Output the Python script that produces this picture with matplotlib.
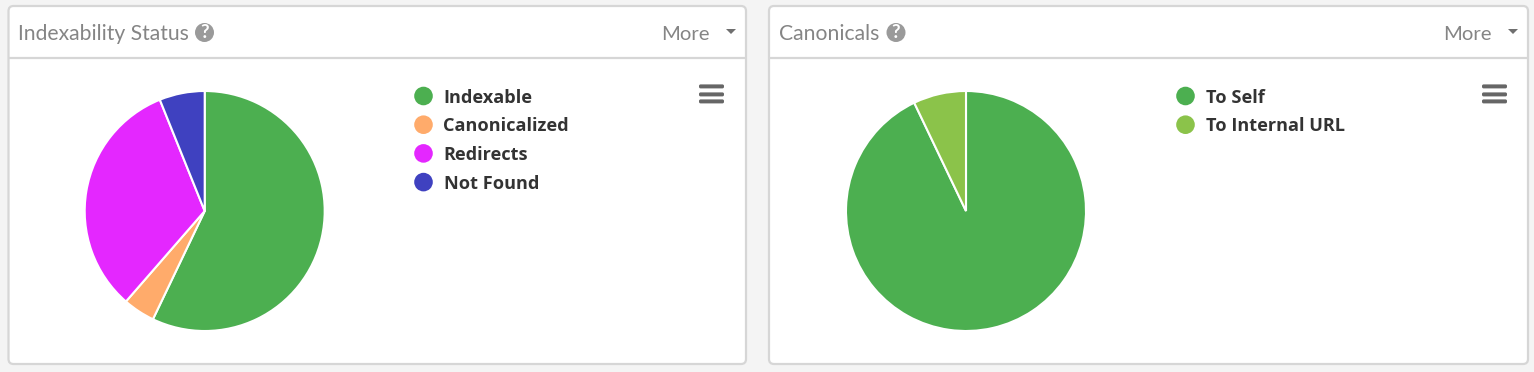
import matplotlib
matplotlib.use("Agg")
import matplotlib.pyplot as plt
from matplotlib.patches import FancyBboxPatch, Circle, Polygon

W, H = 1534, 372
titles = ["Indexability Status", "Canonicals"]
more_label = "More"
labels_a = ["Indexable", "Canonicalized", "Redirects", "Not Found"]
values_a = [57.1, 4.3, 32.5, 6.1]
colors_a = ["#4caf50", "#ffab6b", "#e427ff", "#3f41c0"]
labels_b = ["To Self", "To Internal URL"]
values_b = [92.9, 7.1]
colors_b = ["#4caf50", "#8bc34a"]

plt.rcParams["font.family"] = ["Lato", "DejaVu Sans"]
fig = plt.figure(figsize=(W / 100, H / 100), dpi=100, facecolor="#f4f4f4")
bg = fig.add_axes([0, 0, 1, 1])
bg.set_xlim(0, W)
bg.set_ylim(H, 0)
bg.axis("off")

BORDER = "#d6d6d6"
GREY = "#858585"
ICON = "#9a9a9a"


def panel(x0, x1, title, qx, more_x, arrow_x, burger_x, leg_x, labels, colors, cx, values):
    bg.add_patch(FancyBboxPatch((x0, 6), x1 - x0, 358, boxstyle="round,pad=0,rounding_size=5",
                                fc="white", ec=BORDER, lw=1.6))
    bg.plot([x0, x1], [57.5, 57.5], color=BORDER, lw=1.6, solid_capstyle="butt")
    bg.text(x0 + 9.5, 34, title, fontsize=15.2, color=GREY, va="center", ha="left")
    bg.add_patch(Circle((qx, 32.5), 9.5, fc=ICON, ec="none"))
    bg.text(qx, 33, "?", fontsize=13.5, color="white", weight="bold", ha="center", va="center")
    bg.text(more_x, 34, more_label, fontsize=14.6, color=GREY, va="center", ha="left")
    bg.add_patch(Polygon([(arrow_x - 5, 29), (arrow_x + 5, 29), (arrow_x, 34)], fc="#6f6f6f", ec="none"))
    for y in (86, 94, 101):
        bg.add_patch(FancyBboxPatch((burger_x, y - 1.6), 25, 4,
                                    boxstyle="round,pad=0,rounding_size=1.6",
                                    fc="#666666", ec="none"))
    for i, (lab, col) in enumerate(zip(labels, colors)):
        y = 96 + i * 28.7
        bg.add_patch(Circle((leg_x, y), 9.3, fc=col, ec="none"))
        bg.text(leg_x + 20, y + 1.6, lab, fontsize=13.1, color="#333333", weight="bold",
                family="Open Sans", va="center", ha="left")
    R = 120
    ax = fig.add_axes([(cx - R) / W, 1 - (211 + R) / H, 2 * R / W, 2 * R / H])
    ax.pie(values, colors=colors, startangle=90, counterclock=False, radius=1,
           wedgeprops=dict(edgecolor="white", linewidth=1.5))
    ax.set_xlim(-1, 1)
    ax.set_ylim(-1, 1)
    ax.set_aspect("equal")
    ax.axis("off")


panel(8.5, 746, titles[0], 204.5, 661.5, 731, 699, 423.5, labels_a, colors_a, 204.7, values_a)
panel(769, 1528, titles[1], 896, 1443.5, 1513, 1482, 1185.5, labels_b, colors_b, 966, values_b)

fig.savefig("out.png", dpi=100, facecolor=fig.get_facecolor())
